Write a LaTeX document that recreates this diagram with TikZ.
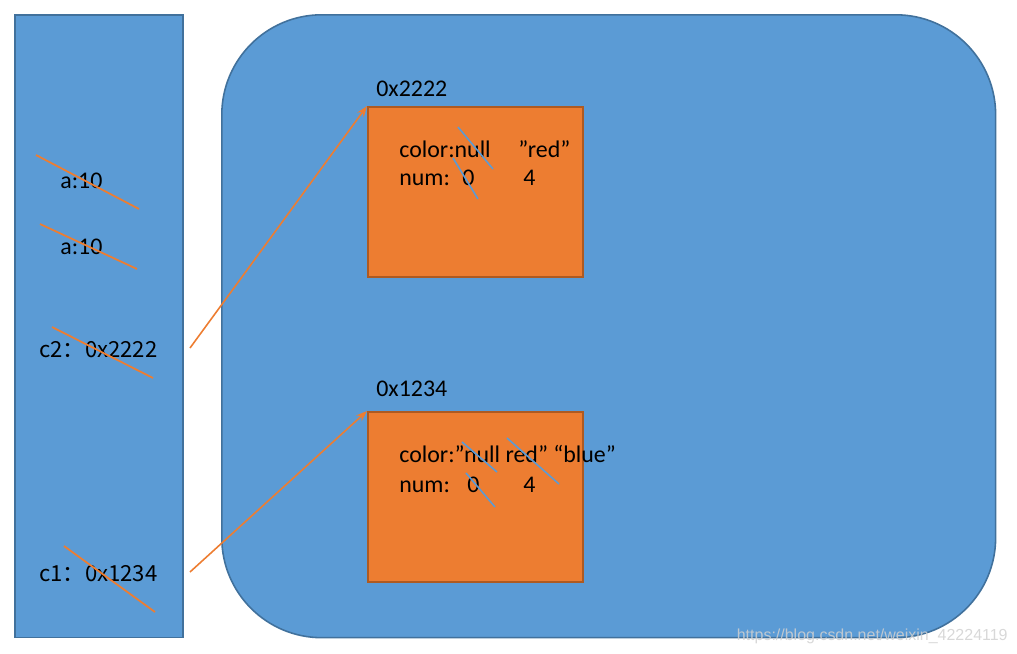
\documentclass[tikz,border=0pt]{standalone}
\usepackage{fontspec}
\setmainfont{Carlito}
\newfontfamily\cjk{Noto Sans CJK SC}
\newfontfamily\wmfont{Liberation Sans}
\usetikzlibrary{arrows.meta}
\definecolor{panelblue}{HTML}{5B9BD5}
\definecolor{edgeblue}{HTML}{41719C}
\definecolor{objorange}{HTML}{ED7D31}
\definecolor{edgeorange}{HTML}{AE5A21}
\definecolor{strikeblue}{HTML}{5B9BD5}
\tikzset{
  stack/.style={draw=edgeblue,fill=panelblue,line width=0.9pt,anchor=north west,inner sep=0pt},
  heap/.style={draw=edgeblue,fill=panelblue,line width=0.9pt,rounded corners=2cm,anchor=north west,inner sep=0pt},
  obj/.style={draw=edgeorange,fill=objorange,line width=0.9pt,minimum width=4.3cm,minimum height=3.4cm,anchor=north west,inner sep=0pt},
  body/.style={font=\fontsize{13.6}{16}\selectfont,anchor=base west,inner sep=0pt},
  ref/.style={font=\cjk\fontsize{12.6}{15}\selectfont,anchor=base west,inner sep=0pt},
  arr/.style={-{Stealth[length=2.2mm,width=1.6mm]},draw=objorange,line width=0.9pt},
  strikeo/.style={draw=objorange,line width=1pt},
  strikeb/.style={draw=strikeblue,line width=0.9pt}
}

\begin{document}
\begin{tikzpicture}[x=0.02cm,y=-0.02cm]
\path[use as bounding box] (0,0) rectangle (1017,653);
\node[stack,minimum width=3.36cm,minimum height=12.46cm] (stackarea) at (14,14) {};
\node[heap,minimum width=15.48cm,minimum height=12.46cm] (heaparea) at (221,14) {};

\node[obj] (obj2222) at (367,106) {};
\node[obj] (obj1234) at (367,411) {};
\node[body] (addr2222) at (376,96) {0x2222};
\node[body] (addr1234) at (376,396) {0x1234};

\node[body] (colortop) at (399,157) {color:null};
\node[body] (redtop) at (518,157) {”red”};
\node[body] (numtop) at (399,185) {num:};
\node[body] (zerotop) at (462,185) {0};
\node[body] (fourtop) at (523,185) {4};

\node[body] (colorbot) at (399,462) {color:”null red” “blue”};
\node[body] (numbot) at (399,492) {num:};
\node[body] (zerobot) at (467,492) {0};
\node[body] (fourbot) at (523,492) {4};

\node[body] (aone) at (60,188) {a:10};
\node[body] (atwo) at (60,254) {a:10};
\node[ref] (ctwo) at (39,357) {c2：0x2222};
\node[ref] (cone) at (39,581) {c1：0x1234};

\draw[strikeo] (36,155) -- (139,209);
\draw[strikeo] (40,224) -- (137,269);
\draw[strikeo] (52,327) -- (153,378);
\draw[strikeo] (64,546) -- (155,612);

\draw[strikeb] (458,127) -- (493,169);
\draw[strikeb] (453,158) -- (478,199);
\draw[strikeb] (462,442) -- (497,472);
\draw[strikeb] (507,438) -- (559,484);
\draw[strikeb] (466,473) -- (495,507);

\coordinate (ctwoout) at (190,348);
\coordinate (coneout) at (190,572);
\draw[arr] (ctwoout) -- (obj2222.north west);
\draw[arr] (coneout) -- (obj1234.north west);

\node[font=\wmfont\fontsize{9.1}{11}\selectfont,text=white!82!black,opacity=0.85,anchor=base east,inner sep=0pt] (watermark) at (1008,640) {https://blog.csdn.net/weixin\_42224119};
\end{tikzpicture}
\end{document}
